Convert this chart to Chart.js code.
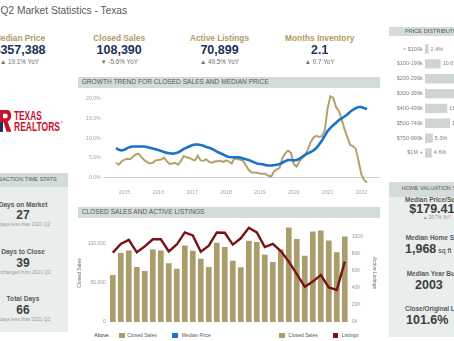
<!DOCTYPE html>
<html>
<head>
<meta charset="utf-8">
<script src="https://cdn.jsdelivr.net/npm/chart.js@4.4.1/dist/chart.umd.min.js"></script>
<style>
body{margin:0;width:454px;height:341px;overflow:hidden;position:relative;background:#fff;font-family:"Liberation Sans",Arial,sans-serif}
.t{position:absolute;white-space:nowrap;line-height:1}
.box{position:absolute}
canvas{position:absolute}
</style>
</head>
<body>

<svg class="box" style="left:0;top:108px" width="66" height="26" viewBox="0 0 66 26">
<path d="M-3,2 L7,2 Q11.2,2 11.2,7.6 Q11.2,12.2 7.6,13.2 L11.4,23.7 L6.6,23.7 L3.6,14.2 L3,14.2 L3,23.7 L-3,23.7 Z" fill="#c8102e"/>
<path d="M3,5.8 L6.4,5.8 Q7.6,5.8 7.6,8 Q7.6,10.2 6.4,10.2 L3,10.2 Z" fill="#fff"/>
<path d="M-3,16.5 L3,13.6 L3,23.7 L-3,23.7 Z" fill="#1b325a"/>
<text x="14" y="12" font-family="Liberation Sans Narrow, Liberation Sans" font-weight="bold" font-size="13" fill="#c8102e" textLength="27.7" lengthAdjust="spacingAndGlyphs">TEXAS</text>
<text x="14" y="22.7" font-family="Liberation Sans Narrow, Liberation Sans" font-weight="bold" font-size="13" fill="#c8102e" textLength="46" lengthAdjust="spacingAndGlyphs">REALTORS</text>
<text x="60.4" y="15.5" font-size="3.5" fill="#c8102e">®</text>
</svg>

<canvas id="growth" width="302" height="112" style="left:78px;top:89px"></canvas>
<canvas id="sales" width="310" height="110" style="left:70px;top:218px"></canvas>
<canvas id="dist" width="110" height="130" style="left:370px;top:36px"></canvas>

<script>

// GROWTH TREND - rolling yoy change (%), monthly starting Oct 2014

const startYear=2014
const startMonth=9

const salesGrowth=[
3.8,3.3,4.1,4.6,4.8,4.7,5.3,5.9,6.1,5.2,4.5,4.0,
3.6,3.8,4.4,4.5,4.6,5.1,4.2,3.5,3.6,3.8,3.3,4.2,
5.5,5.2,5.0,4.6,4.4,5.6,4.4,4.3,4.7,4.0,3.8,4.1,
4.2,4.3,4.0,4.4,4.1,3.6,5.0,4.7,4.6,4.3,3.2,2.0,
1.4,1.3,1.25,1.1,1.0,1.0,0.5,0.3,1.6,2.1,2.5,5.0,
6.2,6.9,6.3,3.5,2.8,4.1,5.0,5.6,7.2,9.0,10.2,10.6,
10.3,10.5,12.0,17.5,20.6,20.2,17.9,16.9,14.8,12.3,10.3,8.3,
8.0,7.3,4.2,0.8,-0.6,-1.2
]

const priceGrowth=[
7.5,7.1,6.9,7.1,7.5,7.8,7.9,7.9,7.9,7.9,7.9,7.8,
7.6,7.4,7.2,7.0,6.8,6.5,6.3,6.2,6.1,6.2,6.4,6.8,
7.3,7.6,7.9,8.2,8.4,8.4,8.3,8.1,7.8,7.6,7.3,6.9,
6.5,6.2,5.9,5.5,5.25,5.2,5.2,5.2,5.1,4.9,4.7,4.5,
4.2,3.9,3.6,3.5,3.4,3.2,3.1,3.1,3.2,3.3,3.5,3.8,
4.2,4.5,4.5,4.4,4.5,4.8,5.3,5.8,6.2,6.5,6.9,7.5,
8.4,9.4,10.6,11.8,12.6,13.3,13.9,14.6,15.0,15.5,16.0,16.7,
17.2,17.6,17.9,17.9,17.6,17.4
]

const yearTicks=[2015,2016,2017,2018,2019,2020,2021,2022]
const growthTicks=[0,5,10,15,20]


// CLOSED SALES AND ACTIVE LISTINGS - quarterly

const quarters=[
"2015 Q1","2015 Q2","2015 Q3","2015 Q4",
"2016 Q1","2016 Q2","2016 Q3","2016 Q4",
"2017 Q1","2017 Q2","2017 Q3","2017 Q4",
"2018 Q1","2018 Q2","2018 Q3","2018 Q4",
"2019 Q1","2019 Q2","2019 Q3","2019 Q4",
"2020 Q1","2020 Q2","2020 Q3","2020 Q4",
"2021 Q1","2021 Q2","2021 Q3","2021 Q4",
"2022 Q1","2022 Q2"
]

const closedSales=[
59500,87600,90700,69800,
64700,91900,90700,74600,
67500,97000,90300,80100,
69800,100600,95000,77700,
69500,103000,101400,85200,
76100,91900,120000,105300,
84000,114800,116000,103300,
88400,108390
]

const activeListings=[
81400,91700,96400,81800,
88700,97100,97100,82900,
90900,105100,101500,82500,
89500,105100,104700,90800,
98200,110600,105100,88000,
91700,83200,70900,56200,
41300,47400,55100,40500,
37600,70899
]

const salesTicks=[0,50000,100000]
const listingTicks=[0,20000,40000,60000,80000,100000]


// PRICE DISTRIBUTION - share of sales (%)

const priceBands=["< $100k","$100-199k","$200-299k","$300-399k","$400-499k","$500-749k","$750-999k","$1M +"]
const priceShare=[2.4,10.6,22.0,23.1,15.1,16.9,5.3,4.6]


const FONT='"Liberation Sans", Arial, sans-serif'
Chart.defaults.font.family=FONT

function box(x,y,w,h,color){
const d=document.createElement("div")
d.className="box"
d.style.cssText=`left:${x}px;top:${y}px;width:${w}px;height:${h}px;background:${color}`
document.body.appendChild(d)
}

function txt(s,x,y,size,color,bold,center){
const d=document.createElement("div")
d.className="t"
d.innerHTML=s
d.style.cssText=`left:${x}px;top:${y-size/2}px;font-size:${size}px;color:${color};font-weight:${bold?"bold":"normal"}`
if(center) d.style.transform="translateX(-50%)"
document.body.appendChild(d)
}

const GOLD="#b09c65"
const NAVY="#1b325a"
const GREY="#595959"
const BAND="#d3dcd8"
const PANEL="#e8eeec"


// header and KPIs

txt("Q2 Market Statistics - Texas",0.5,11.5,10.2,GREY)

const kpis=[
["Median Price","$357,388","&#9650; 19.1% YoY",19.5],
["Closed Sales","108,390","&#9660; -5.6% YoY",119.2],
["Active Listings","70,899","&#9650; 49.5% YoY",219.5],
["Months Inventory","2.1","&#9650; 0.7 YoY",319.7]
]

kpis.forEach(k=>{
txt(k[0],k[3],38.5,8.3,GOLD,true,true)
txt(k[1],k[3],50.5,12.5,NAVY,true,true)
txt(k[2],k[3],61.7,6.3,"#707070",false,true)
})


// section bands

box(78,76.5,301.5,11.8,BAND)
txt("GROWTH TREND FOR CLOSED SALES AND MEDIAN PRICE",81.7,82.4,6.6,GREY)

box(78,206.7,302,11.6,BAND)
txt("CLOSED SALES AND ACTIVE LISTINGS",81.7,212.5,6.6,GREY)

box(389,27.3,80,8.8,BAND)
txt("PRICE DISTRIBUTION",405,31.7,5.6,GREY)


// transaction time stats panel

box(-20,173.3,88,158.4,PANEL)
box(-20,173.3,88,13.7,BAND)
txt("TRANSACTION TIME STATS",20,180.2,5.6,GREY,false,true)

const timeStats=[
["Days on Market","27","3 days less than 2021 Q2",205],
["Days to Close","39","Unchanged from 2021 Q2",252.5],
["Total Days","66","3 days less than 2021 Q2",299.5]
]

timeStats.forEach(s=>{
txt(s[0],23,s[3],6.6,GREY,true,true)
txt(s[1],23,s[3]+10,12,"#404040",true,true)
txt(s[2],23,s[3]+20.6,4.8,"#9a9a9a",false,true)
})


// home valuation stats panel

box(389.3,181.7,80,155,PANEL)
box(389.3,181.7,80,15,BAND)
txt("HOME VALUATION STATS",401.7,189.2,5.6,GREY)

txt("Median Price/Sq Ft",405,200.4,6.5,GREY,true)
txt("$179.41",409.3,209.7,12.5,"#3c3c3c",true)
txt("&#9650; 20.7% YoY",423,218.3,4.5,"#8a8a8a")
txt("Median Home Size",405.7,238.3,6.5,GREY,true)
txt('1,968<span style="font-size:7px;font-weight:normal"> sq ft</span>',405,249.2,12.5,"#3c3c3c",true)
txt("Median Year Built",406.7,274.3,6.5,GREY,true)
txt("2003",415,285.5,12.5,"#3c3c3c",true)
txt("Close/Original List Price",405,309.3,6.5,GREY,true)
txt("101.6%",406,320.3,12.5,"#3c3c3c",true)


// legend under the sales chart

txt("Above:",94.3,335.7,5,"#333")
box(119.3,333.3,5.7,4.6,"#ab9c6b")
txt("Closed Sales",127.3,335.7,5,GREY)
box(172,333.3,5.5,4.6,"#1a73c4")
txt("Median Price",181.7,335.7,5,GREY)
box(279.3,333.3,5.7,4.6,"#ab9c6b")
txt("Closed Sales",288.3,335.7,5,GREY)
box(332.7,333.3,5.6,4.6,"#7b1115")
txt("Listings",341.7,335.7,5,GREY)


// GROWTH CHART

new Chart(document.getElementById("growth"),{

type:"line",

data:{
datasets:[
{label:"Median Price",data:priceGrowth.map((v,i)=>({x:i,y:v})),borderColor:"#1a73c4",borderWidth:2.6,pointRadius:0,tension:0},
{label:"Closed Sales",data:salesGrowth.map((v,i)=>({x:i,y:v})),borderColor:"#b3a16c",borderWidth:2,pointRadius:0,tension:0}
]
},

options:{
responsive:false,
animation:false,
devicePixelRatio:1,
layout:{padding:{top:4.7,right:0.5,left:0,bottom:0}},
plugins:{legend:{display:false},tooltip:{enabled:false}},
scales:{
x:{
type:"linear",min:-4.5,max:93.4,
grid:{display:false,drawTicks:false},
border:{display:false},
afterBuildTicks:s=>{s.ticks=yearTicks.map(y=>({value:(y-startYear)*12-startMonth}))},
ticks:{padding:6,color:"#a6a6a6",font:{size:5.2},maxRotation:0,autoSkip:false,
callback:v=>String(startYear+Math.floor((v+startMonth)/12))},
afterFit:s=>{s.height=17.3}
},
y:{
min:-1.5,max:21,
grid:{drawTicks:false,color:c=>c.tick&&c.tick.value===0?"#cfcfcf":"rgba(0,0,0,0)"},
border:{display:false},
afterBuildTicks:s=>{s.ticks=growthTicks.map(v=>({value:v}))},
ticks:{padding:2.6,color:"#a6a6a6",font:{size:5.2},callback:v=>v.toFixed(1)+"%"},
afterFit:s=>{s.width=25.3}
}
}
}

})


// SALES AND LISTINGS CHART

new Chart(document.getElementById("sales"),{

type:"bar",

data:{
labels:quarters,
datasets:[
{type:"line",label:"Listings",data:activeListings,yAxisID:"y2",borderColor:"#7b1115",borderWidth:2.4,pointRadius:0,tension:0,order:0},
{type:"bar",label:"Closed Sales",data:closedSales,yAxisID:"y",backgroundColor:"#ab9c6b",barPercentage:0.71,categoryPercentage:1,order:1}
]
},

options:{
responsive:false,
animation:false,
devicePixelRatio:1,
layout:{padding:{top:4,bottom:1,left:0,right:0}},
plugins:{legend:{display:false},tooltip:{enabled:false}},
scales:{
x:{display:false},
y:{
position:"left",min:0,max:124300,
grid:{display:false,drawTicks:false},
border:{display:false},
afterBuildTicks:s=>{s.ticks=salesTicks.map(v=>({value:v}))},
ticks:{padding:3,color:"#9a9a9a",font:{size:5},callback:v=>v.toLocaleString("en-US")},
title:{display:true,text:"Closed Sales",color:"#666",font:{size:5},padding:{top:7,bottom:0}},
afterFit:s=>{s.width=38.8}
},
y2:{
position:"right",min:0,max:115000,
grid:{display:false,drawTicks:false},
border:{display:false},
afterBuildTicks:s=>{s.ticks=listingTicks.map(v=>({value:v}))},
ticks:{padding:3,color:"#9a9a9a",font:{size:5},callback:v=>(v/1000)+"K"},
title:{display:true,text:"Active Listings",color:"#666",font:{size:5},padding:{top:3,bottom:0}},
afterFit:s=>{s.width=31.2}
}
}
}

})


// PRICE DISTRIBUTION CHART

new Chart(document.getElementById("dist"),{

type:"bar",

data:{
labels:priceBands,
datasets:[{data:priceShare,backgroundColor:"#cfd5d2",barPercentage:0.63,categoryPercentage:1}]
},

options:{
indexAxis:"y",
responsive:false,
animation:false,
devicePixelRatio:1,
layout:{padding:{top:1.8,bottom:1.4,right:10.6,left:0}},
plugins:{legend:{display:false},tooltip:{enabled:false}},
scales:{
x:{display:false,min:0,max:30},
y:{
grid:{display:false,drawTicks:false},
border:{display:false},
ticks:{padding:2.3,color:"#808080",font:{size:5.5}},
afterFit:s=>{s.width=55}
}
}
},

plugins:[{
id:"shareLabels",
afterDatasetsDraw(chart){
const ctx=chart.ctx
ctx.save()
ctx.font="5.5px "+FONT
ctx.fillStyle="#808080"
ctx.textBaseline="middle"
chart.getDatasetMeta(0).data.forEach((bar,i)=>{
ctx.fillText(priceShare[i].toFixed(1)+"%",bar.x+2,bar.y)
})
ctx.restore()
}
}]

})

</script>
</body>
</html>
